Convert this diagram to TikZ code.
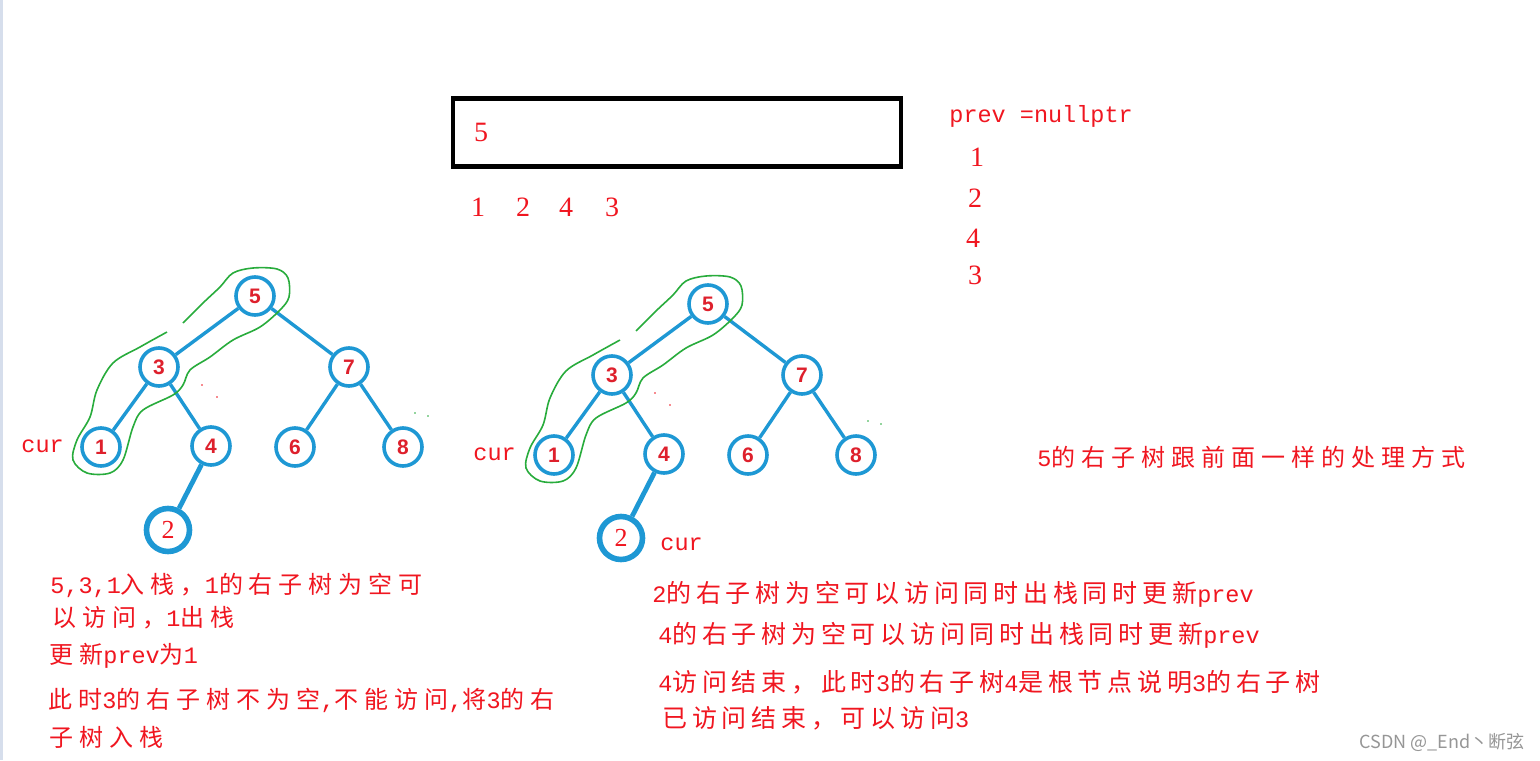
\documentclass[tikz,border=0pt]{standalone}
\usepackage{fontspec}
\setmainfont{Liberation Serif}
\newfontfamily\cjkL[LetterSpace=25]{Noto Sans CJK SC}
\newfontfamily\cjkR[LetterSpace=19]{Noto Sans CJK SC}
\newfontfamily\cjkW{Noto Sans CJK SC}
\newfontfamily\monof{Liberation Mono}
\newfontfamily\lsans{Liberation Sans}
\newcommand\latn[1]{{\monof\fontsize{11.75pt}{14pt}\selectfont #1}}
\definecolor{tblue}{RGB}{30,152,212}
\definecolor{nred}{RGB}{222,32,44}
\definecolor{tred}{RGB}{240,22,32}
\definecolor{lgreen}{RGB}{40,172,60}
\definecolor{wgray}{RGB}{150,150,150}
\definecolor{edgec}{RGB}{214,222,236}
\tikzset{
  tn/.style={circle,draw=tblue,line width=1.8pt,minimum size=19pt,inner sep=0pt,
    text=nred,font=\lsans\bfseries\fontsize{10.5pt}{12pt}\selectfont},
  tnbig/.style={circle,draw=tblue,line width=2.8pt,minimum size=21.5pt,inner sep=0pt,
    text=tred,font=\fontsize{13pt}{15pt}\selectfont},
  tedge/.style={draw=tblue,line width=1.7pt},
  tedgebig/.style={draw=tblue,line width=2.4pt},
  lasso/.style={draw=lgreen,line width=0.8pt},
  txtL/.style={anchor=west,inner sep=0pt,text=tred,font=\cjkL\fontsize{12pt}{14pt}\selectfont},
  txtR/.style={anchor=west,inner sep=0pt,text=tred,font=\cjkR\fontsize{12.5pt}{14pt}\selectfont},
  dig/.style={inner sep=0pt,text=tred,font=\fontsize{14pt}{16pt}\selectfont},
  mono/.style={anchor=west,inner sep=0pt,text=tred,font=\monof\fontsize{11.75pt}{14pt}\selectfont},
}
\newcommand\mytree[2]{%
\begin{scope}[shift={#2}]
  \node[tn] (#1five) at (255,296) {5};
  \node[tn] (#1three) at (159,367) {3};
  \node[tn] (#1seven) at (349,367) {7};
  \node[tn] (#1one) at (101,447) {1};
  \node[tn] (#1four) at (211,446) {4};
  \node[tn] (#1six) at (295,447) {6};
  \node[tn] (#1eight) at (403,447) {8};
  \node[tnbig] (#1two) at (168,530) {2};
  \draw[tedge] (#1five) -- (#1three);
  \draw[tedge] (#1five) -- (#1seven);
  \draw[tedge] (#1three) -- (#1one);
  \draw[tedge] (#1three) -- (#1four);
  \draw[tedge] (#1seven) -- (#1six);
  \draw[tedge] (#1seven) -- (#1eight);
  \draw[tedgebig] (#1four) -- (#1two);
  \draw[lasso] plot[smooth,tension=0.55] coordinates {
    (183,323) (203,303) (220,287) (233,273) (253,268) (277,269) (288,278)
    (289,297) (280,310) (260,327) (233,340) (210,357) (190,370) (183,385)
    (173,395) (143,410) (133,427) (123,460) (110,473) (87,473) (73,460)
    (77,440) (90,417) (97,390) (113,363) (140,347) (167,332)};
  \fill[tred] (202,385) circle (0.8);
  \fill[tred] (217,397) circle (0.8);
  \fill[lgreen] (415,413) circle (0.8);
  \fill[lgreen] (428,416) circle (0.8);
\end{scope}}
\begin{document}
\begin{tikzpicture}[x=0.5pt,y=-0.5pt]
  \useasboundingbox (0,0) rectangle (1540,760);
  \fill[white] (0,0) rectangle (1540,760);
  \fill[edgec] (0,0) rectangle (2.5,760);
  % stack box
  \node[draw=black,line width=2.4pt,minimum width=224pt,minimum height=34pt,inner sep=0pt] (box) at (677,132.5) {};
  \node[dig] (bfive) at (481,132) {5};
  \node[dig] (o1) at (478,207) {1};
  \node[dig] (o2) at (523,207) {2};
  \node[dig] (o3) at (566,207) {4};
  \node[dig] (o4) at (612,207) {3};
  % prev column
  \node[mono] (prev) at (949,116) {prev =nullptr};
  \node[dig] (p1) at (977,157) {1};
  \node[dig] (p2) at (975,198) {2};
  \node[dig] (p3) at (973,238) {4};
  \node[dig] (p4) at (975,275) {3};
  % trees
  \mytree{L}{(0,0)}
  \mytree{R}{(453,8)}
  \node[mono] (curL) at (21,446) {cur};
  \node[mono] (curR) at (473,454) {cur};
  \node[mono] (curR2) at (660,544) {cur};
  % texts
  \node[txtL] (l1) at (50,585) {\latn{5,3,1}入栈，\latn{1}的右子树为空可};
  \node[txtL] (l2) at (52,618) {以访问，\latn{1}出栈};
  \node[txtL] (l3) at (49,656) {更新\latn{prev}为\latn{1}};
  \node[txtL] (l4) at (48,700) {此时\latn{3}的右子树不为空\latn{,}不能访问\latn{,}将\latn{3}的右};
  \node[txtL] (l5) at (49,737) {子树入栈};
  \node[txtR] (r1) at (652,594) {\latn{2}的右子树为空可以访问同时出栈同时更新\latn{prev}};
  \node[txtR] (r2) at (658,635) {\latn{4}的右子树为空可以访问同时出栈同时更新\latn{prev}};
  \node[txtR] (r3) at (658,682) {\latn{4}访问结束，此时\latn{3}的右子树\latn{4}是根节点说明\latn{3}的右子树};
  \node[txtR] (r4) at (662,718) {已访问结束，可以访问\latn{3}};
  \node[txtL] (side) at (1037,457) {\latn{5}的右子树跟前面一样的处理方式};
  \node[anchor=east,inner sep=0pt,text=wgray,font=\cjkW\fontsize{9pt}{11pt}\selectfont] (wm) at (1525,742) {CSDN @\_End丶断弦};
\end{tikzpicture}
\end{document}
